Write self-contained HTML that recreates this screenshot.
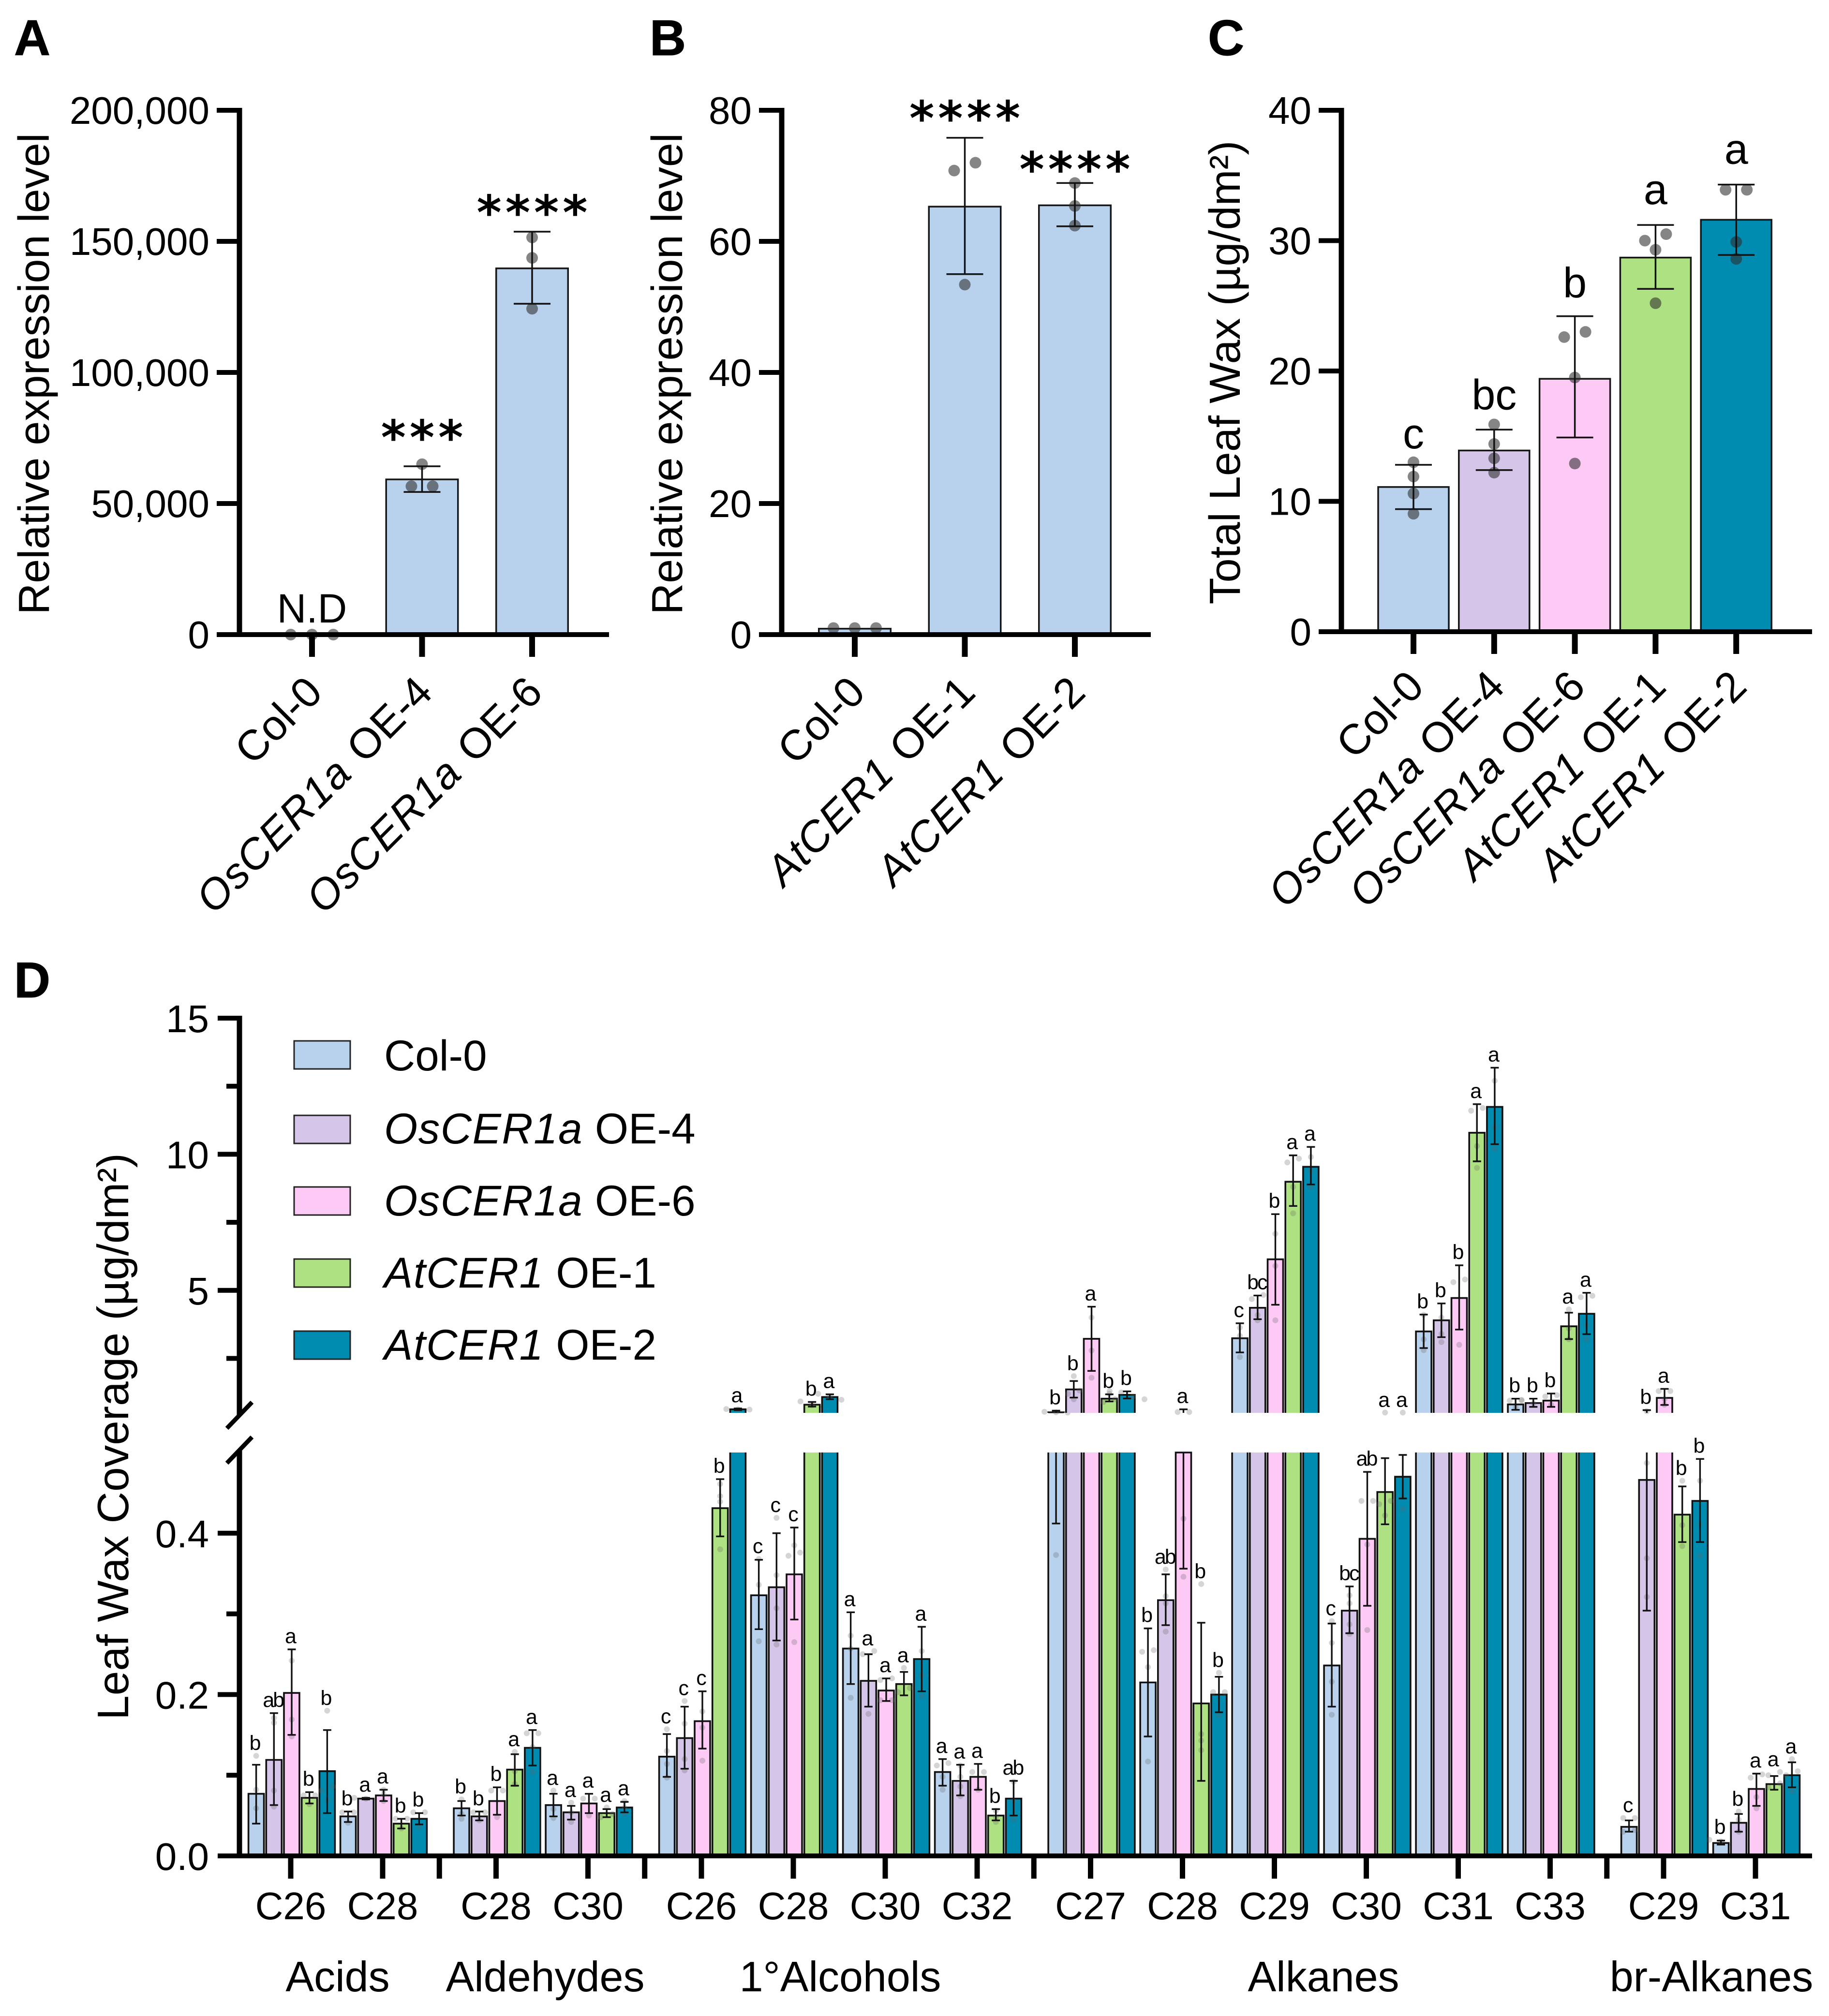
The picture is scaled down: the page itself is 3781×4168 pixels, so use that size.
<!DOCTYPE html>
<html lang="en">
<head>
<meta charset="utf-8">
<title>Leaf wax figure</title>
<style>
html,body{margin:0;padding:0;background:#fff;}
svg{display:block;}
text{font-family:"Liberation Sans",sans-serif;fill:#000;}
.panel-letter{font-size:104px;font-weight:bold;stroke:#000;stroke-width:1px;}
.axis-title{font-size:90px;text-anchor:middle;}
.legend-text{font-size:89px;}
.legend-text tspan{letter-spacing:1.5px;}
.group-title{font-size:88px;text-anchor:middle;}
</style>
</head>
<body>
<svg id="figure" xmlns="http://www.w3.org/2000/svg" width="3781" height="4168" viewBox="0 0 3781 4168">
<rect x="0" y="0" width="3781" height="4168" fill="#fff"/>
<text class="panel-letter" x="29" y="114">A</text>
<text class="panel-letter" x="1343" y="114">B</text>
<text class="panel-letter" x="2497" y="114">C</text>
<text class="panel-letter" x="29" y="2062">D</text>
<text class="axis-title" transform="translate(101,773) rotate(-90)">Relative expression level</text>
<text class="axis-title" transform="translate(1410,773) rotate(-90)">Relative expression level</text>
<text class="axis-title" transform="translate(2563,770) rotate(-90)">Total Leaf Wax (µg/dm²)</text>
<text class="axis-title" style="font-size:91px" transform="translate(265,2970) rotate(-90)">Leaf Wax Coverage (µg/dm²)</text>
<g>
<rect x="608" y="2152" width="116" height="58" fill="#B8D1EC" stroke="#222" stroke-width="3"/>
<text class="legend-text" x="794" y="2213">Col-0</text>
<rect x="608" y="2306" width="116" height="58" fill="#D5C5E8" stroke="#222" stroke-width="3"/>
<text class="legend-text" x="794" y="2364"><tspan font-style="italic">OsCER1a</tspan> OE-4</text>
<rect x="608" y="2454" width="116" height="58" fill="#FDC9F5" stroke="#222" stroke-width="3"/>
<text class="legend-text" x="794" y="2513"><tspan font-style="italic">OsCER1a</tspan> OE-6</text>
<rect x="608" y="2603" width="116" height="58" fill="#AEE181" stroke="#222" stroke-width="3"/>
<text class="legend-text" x="794" y="2662"><tspan font-style="italic">AtCER1</tspan> OE-1</text>
<rect x="608" y="2752" width="116" height="58" fill="#008BB0" stroke="#222" stroke-width="3"/>
<text class="legend-text" x="794" y="2811"><tspan font-style="italic">AtCER1</tspan> OE-2</text>
</g>
<text class="group-title" x="698" y="4117">Acids</text>
<text class="group-title" x="1127" y="4117">Aldehydes</text>
<text class="group-title" x="1737" y="4117">1°Alcohols</text>
<text class="group-title" x="2736" y="4117">Alkanes</text>
<text class="group-title" x="3538" y="4117">br-Alkanes</text>
</svg>
<script>
// ---------- Panel A data ----------
const panelACategories = ['Col-0', 'OsCER1a OE-4', 'OsCER1a OE-6'];
const panelAMeans = [0, 59200, 139700];
const panelAHi = [0, 64200, 153700];
const panelALo = [0, 54400, 126200];
const panelAPoints = [[0, 0, 0], [65000, 56600, 56600], [151500, 143700, 124300]];
const panelATicks = [0, 50000, 100000, 150000, 200000];
const panelATickLabels = ['0', '50,000', '100,000', '150,000', '200,000'];
const panelAMarks = ['N.D', '***', '****'];
// ---------- Panel B data ----------
const panelBCategories = ['Col-0', 'AtCER1 OE-1', 'AtCER1 OE-2'];
const panelBMeans = [0.9, 65.3, 65.5];
const panelBHi = [0.9, 75.8, 68.9];
const panelBLo = [0.9, 55.0, 62.3];
const panelBPoints = [[1, 1, 1], [72.0, 70.8, 53.4], [68.9, 65.4, 62.4]];
const panelBTicks = [0, 20, 40, 60, 80];
const panelBTickLabels = ['0', '20', '40', '60', '80'];
const panelBMarks = ['', '****', '****'];
// ---------- Panel C data ----------
const panelCCategories = ['Col-0', 'OsCER1a OE-4', 'OsCER1a OE-6', 'AtCER1 OE-1', 'AtCER1 OE-2'];
const panelCMeans = [11.1, 13.9, 19.4, 28.7, 31.6];
const panelCHi = [12.8, 15.5, 24.2, 31.2, 34.3];
const panelCLo = [9.4, 12.4, 14.9, 26.3, 28.9];
const panelCPoints = [[13.0, 11.9, 10.6, 9.05], [15.9, 14.4, 13.3, 12.2], [23.0, 22.6, 19.5, 12.9], [30.5, 30.0, 29.3, 25.2], [33.9, 33.9, 29.9, 28.6]];
const panelCTicks = [0, 10, 20, 30, 40];
const panelCTickLabels = ['0', '10', '20', '30', '40'];
const panelCMarks = ['c', 'bc', 'b', 'a', 'a'];
// ---------- Panel D data ----------
const waxGroups = ['C26', 'C28', 'C28', 'C30', 'C26', 'C28', 'C30', 'C32', 'C27', 'C28', 'C29', 'C30', 'C31', 'C33', 'C29', 'C31'];
const waxFamilies = [0, 0, 1, 1, 2, 2, 2, 2, 3, 3, 3, 3, 3, 3, 4, 4];
const waxLines = ['col-0', 'oscer1a-oe-4', 'oscer1a-oe-6', 'atcer1-oe-1', 'atcer1-oe-2'];
const waxMeans = [
  [.077, .119, .202, .072, .105],
  [.049, .071, .075, .040, .046],
  [.059, .049, .068, .107, .134],
  [.063, .054, .065, .053, .060],
  [.123, .146, .167, .431, .63],
  [.323, .333, .349, .80, 1.08],
  [.257, .217, .205, .213, .244],
  [.104, .093, .098, .050, .071],
  [.52, 1.36, 3.22, 1.02, 1.16],
  [.215, .317, .50, .189, .200],
  [3.24, 4.36, 6.14, 8.99, 9.54],
  [.236, .304, .393, .451, .470],
  [3.49, 3.90, 4.72, 10.79, 11.74],
  [.81, .86, .95, 3.68, 4.14],
  [.036, .466, 1.05, .423, .440],
  [.016, .041, .083, .089, .100]
];
const waxHi = [
  [.113, .177, .256, .079, .156],
  [.055, .072, .082, .046, .053],
  [.068, .055, .085, .126, .156],
  [.077, .062, .077, .058, .067],
  [.151, .185, .204, .467, .66],
  [.367, .400, .407, .90, 1.18],
  [.302, .250, .220, .228, .284],
  [.120, .113, .114, .058, .093],
  [.58, 1.67, 4.40, 1.18, 1.29],
  [.282, .349, .63, .289, .222],
  [3.79, 4.81, 7.80, 9.96, 10.27],
  [.288, .334, .476, .493, .497],
  [4.11, 4.52, 5.92, 11.84, 13.18],
  [1.02, 1.02, 1.21, 4.18, 4.91],
  [.044, .60, 1.38, .458, .492],
  [.019, .052, .102, .099, .116]
];
const waxLo = [
  [.040, .063, .150, .065, .053],
  [.042, .070, .068, .034, .039],
  [.050, .044, .051, .087, .112],
  [.049, .045, .053, .048, .054],
  [.098, .108, .133, .396, .60],
  [.281, .267, .293, .73, 1.0],
  [.213, .185, .192, .199, .204],
  [.087, .075, .082, .044, .050],
  [.412, 1.06, 2.04, .92, 1.03],
  [.148, .286, .356, .093, .178],
  [2.72, 3.94, 4.47, 8.10, 8.89],
  [.185, .276, .310, .411, .443],
  [2.88, 3.28, 3.56, 9.74, 10.37],
  [.61, .72, .72, 3.21, 3.39],
  [.030, .304, .79, .389, .389],
  [.014, .030, .062, .082, .085]
];
const waxSignificance = [
  ['b', 'ab', 'a', 'b', 'b'],
  ['b', 'a', 'a', 'b', 'b'],
  ['b', 'b', 'b', 'a', 'a'],
  ['a', 'a', 'a', 'a', 'a'],
  ['c', 'c', 'c', 'b', 'a'],
  ['c', 'c', 'c', 'b', 'a'],
  ['a', 'a', 'a', 'a', 'a'],
  ['a', 'a', 'a', 'b', 'ab'],
  ['b', 'b', 'a', 'b', 'b'],
  ['b', 'ab', 'a', 'b', 'b'],
  ['c', 'bc', 'b', 'a', 'a'],
  ['c', 'bc', 'ab', 'a', 'a'],
  ['b', 'b', 'b', 'a', 'a'],
  ['b', 'b', 'b', 'a', 'a'],
  ['c', 'b', 'a', 'b', 'b'],
  ['b', 'b', 'a', 'a', 'a']
];
const waxPoints = [
  [[.124, .082, .059], [.171, .165, .081, .061], [.242, .169, .148], [.075, .075, .064], [.180, .086, .081, .069]],
  [[.054, .054, .041], [.072, .071, .070], [.082, .076, .068], [.046, .046, .034], [.054, .054, .036]],
  [[.070, .052, .046], [.054, .054, .044], [.081, .081, .048], [.129, .105, .089], [.152, .152, .135, .104]],
  [[.081, .058, .047], [.066, .054, .042], [.071, .071, .050], [.060, .052, .048], [.068, .060, .052]],
  [[.157, .130, .114, .097], [.192, .164, .120, .106], [.179, .159, .118], [.461, .446, .439, .380], [.64, .63, .62]],
  [[.368, .336, .266], [.419, .348, .307, .262], [.385, .376, .372, .265], [.92, .78, .72], [1.2, 1.1, .98]],
  [[.273, .257, .196], [.254, .250, .176], [.220, .218, .193, .193], [.233, .208, .203], [.224, .198, .254]],
  [[.115, .112, .098, .082], [.112, .098, .086, .074], [.104, .104, .082], [.056, .048, .042], [.092, .068, .045]],
  [[.54, .52, .51, .373], [1.85, 1.32, 1.2, 1.0], [4.0, 2.79, 1.79], [1.2, 1.0, .9], [1.3, 1.25, 1.1, 1.0]],
  [[.255, .253, .234, .117], [.355, .322, .313, .278], [.53, .53, .418, .346], [.337, .151, .143, .131], [.227, .203, .203, .174]],
  [[3.63, 3.33, 2.55], [4.83, 4.68, 4.09, 3.9], [7.08, 5.9, 3.9], [9.84, 9.7, 8.8, 7.83], [9.9, 9.4, 8.8]],
  [[.291, .264, .216, .175], [.323, .313, .287, .275], [.44, .44, .386, .280], [.51, .44, .436, .422], [.51, .444, .43]],
  [[4.1, 3.2, 2.8], [4.0, 3.1, 3.4], [5.4, 5.3, 3.0], [11.7, 11.6, 10.3, 9.5], [12.7, 11.0, 10.2]],
  [[.98, .95, .7], [.95, .85, .7], [1.15, 1.1, .8], [4.3, 3.6, 3.2], [4.8, 4.75, 3.75, 3.2]],
  [[.047, .047, .032, .030], [.56, .487, .369, .321], [1.3, 1.3, 1.0, .8], [.465, .410, .384], [.465, .411, .372]],
  [[.020, .018, .014], [.055, .045, .030], [.101, .097, .073, .059], [.104, .100, .090, .085], [.120, .105, .100, .080]]
];
const waxUpperTicks = [5, 10, 15];
const waxUpperMinor = [2.5, 7.5, 12.5];
const waxLowerTicks = [0, 0.2, 0.4];
const waxLowerMinor = [0.1, 0.3];
const waxTickFormat = ['0.0', '0.2', '0.4'];

// ---------- helpers ----------
const lineColors = ['#B8D1EC', '#D5C5E8', '#FDC9F5', '#AEE181', '#008BB0'];
const svgRoot = document.getElementById('figure');
const NS = 'http://www.w3.org/2000/svg';
function make(tag, attrs, parent) {
  const node = document.createElementNS(NS, tag);
  for (const k in attrs) node.setAttribute(k, attrs[k]);
  parent.appendChild(node);
  return node;
}
function swarm(values, yFn, spread, near) {
  const offsets = values.map(function () { return 0; });
  const order = values.map(function (v, i) { return i; }).sort(function (a, b) { return yFn(values[a]) - yFn(values[b]); });
  let i = 0;
  while (i < order.length) {
    let j = i;
    while (j + 1 < order.length && Math.abs(yFn(values[order[j + 1]]) - yFn(values[order[j]])) < near) j++;
    const size = j - i + 1;
    if (size === 2) {
      offsets[order[i]] = spread;
      offsets[order[j]] = -spread;
    } else if (size >= 3) {
      for (let k = 0; k < size; k++) offsets[order[i + k]] = (k - (size - 1) / 2) * spread * 2;
    }
    i = j + 1;
  }
  return offsets;
}

// ---------- panels A, B, C ----------
function drawPanel(key, cfg, categories, means, hi, lo, points, ticks, tickLabels, marks) {
  const g = make('g', {}, svgRoot);
  
  
  const yScale = function (v) { return cfg.zero - v / cfg.max * (cfg.zero - cfg.top); };
  categories.forEach(function (cat, i) {
    const cx = cfg.centers0 + i * cfg.step;
    const barTop = yScale(means[i]);
    const bar = make('rect', { x: cx - cfg.barW / 2, y: barTop, width: cfg.barW, height: Math.max(cfg.zero - barTop, 0), fill: cfg.multi ? lineColors[i] : lineColors[0], stroke: '#161616', 'stroke-width': 3.5 }, g);
    
    
    const offs = swarm(points[i], yScale, 22, 18);
    points[i].forEach(function (p, j) {
      const dot = make('circle', { cx: cx + offs[j], cy: yScale(p), r: 12, fill: 'rgba(45,45,45,0.58)' }, g);
      
      
    });
    if (hi[i] !== lo[i]) {
      const yh = yScale(hi[i]), yl = yScale(lo[i]);
      const err = make('path', { d: 'M' + (cx - 38) + ' ' + yh + 'H' + (cx + 38) + 'M' + cx + ' ' + yh + 'V' + yl + 'M' + (cx - 38) + ' ' + yl + 'H' + (cx + 38), fill: 'none', stroke: '#111', 'stroke-width': 3.5 }, g);
      
      
    }
    const tick = make('rect', { x: cx - 6, y: cfg.zero, width: 12, height: 46, fill: '#000' }, g);
    
    
    const label = make('text', { 'text-anchor': 'end', 'font-size': 88, transform: 'translate(' + (cx + 26) + ',' + (cfg.zero + cfg.labelDrop) + ') rotate(-45)' }, g);
    
    
    const m = /^(OsCER1a|AtCER1)( .*)$/.exec(cat);
    if (m) {
      const it = make('tspan', { 'font-style': 'italic', 'letter-spacing': 2 }, label);
      it.textContent = m[1];
      const rest = make('tspan', { dx: 6 }, label);
      rest.textContent = m[2];
    } else {
      label.textContent = cat;
    }
    const mark = marks[i];
    if (mark) {
      const isStar = mark.charAt(0) === '*';
      let t;
      if (isStar) {
        t = make('text', { x: cx + 4, y: yScale(hi[i]) - cfg.markGap[i] + 51, 'text-anchor': 'middle', 'font-size': 98, 'font-weight': 'bold', 'letter-spacing': 8, style: 'font-family:"DejaVu Sans",sans-serif' }, g);
      } else if (mark === 'N.D') {
        t = make('text', { x: cx, y: cfg.zero - 25, 'text-anchor': 'middle', 'font-size': 84 }, g);
      } else {
        t = make('text', { x: cx, y: yScale(hi[i]) - cfg.markGap[i], 'text-anchor': 'middle', 'font-size': 88 }, g);
      }
      
      
      t.textContent = mark;
    }
  });
  const yAxis = make('rect', { x: cfg.axisX - 5.5, y: cfg.top - 5, width: 11, height: cfg.zero - cfg.top + 10, fill: '#000' }, g);
  
  
  const xAxis = make('rect', { x: cfg.axisX - 47, y: cfg.zero - 5, width: cfg.xEnd - cfg.axisX + 47, height: 10, fill: '#000' }, g);
  
  
  ticks.forEach(function (v, i) {
    const y = yScale(v);
    const tick = make('rect', { x: cfg.axisX - 47, y: y - 5, width: 47, height: 10, fill: '#000' }, g);
    
    
    const label = make('text', { x: cfg.axisX - 62, y: y + 28, 'text-anchor': 'end', 'font-size': 80 }, g);
    
    
    label.textContent = tickLabels[i];
  });
}
drawPanel('a', { axisX: 495, xEnd: 1259, top: 228, zero: 1312, max: 200000, centers0: 645, step: 227.5, barW: 148.5, multi: false, labelDrop: 124, markGap: [0, 76, 56] },
  panelACategories, panelAMeans, panelAHi, panelALo, panelAPoints, panelATicks, panelATickLabels, panelAMarks);
drawPanel('b', { axisX: 1616, xEnd: 2379, top: 228, zero: 1312, max: 80, centers0: 1767, step: 227.5, barW: 148.5, multi: false, labelDrop: 124, markGap: [0, 57, 45] },
  panelBCategories, panelBMeans, panelBHi, panelBLo, panelBPoints, panelBTicks, panelBTickLabels, panelBMarks);
drawPanel('c', { axisX: 2773, xEnd: 3746, top: 228, zero: 1306, max: 40, centers0: 2922, step: 166.8, barW: 146, multi: true, labelDrop: 118, markGap: [34, 42, 39, 43, 43] },
  panelCCategories, panelCMeans, panelCHi, panelCLo, panelCPoints, panelCTicks, panelCTickLabels, panelCMarks);

// ---------- panel D ----------
const D = { axisX: 495, zero: 3837, breakLow: 3003, breakHigh: 2921, top: 2105, split: 0.5, max: 15 };
function yWax(v) {
  if (v <= D.split) return D.zero - v / D.split * (D.zero - D.breakLow);
  return D.breakHigh - (v - D.split) / (D.max - D.split) * (D.breakHigh - D.top);
}
function xGroup(i) { return 601 + i * 190 + waxFamilies[i] * 44.5; }
const gd = make('g', {}, svgRoot);


const barStep = 36.7, barWide = 32;
waxGroups.forEach(function (name, gi) {
  const tx = xGroup(gi);
  const grp = make('g', {}, gd);
  
  
  waxLines.forEach(function (line, li) {
    const cx = tx + 2 + (li - 2) * barStep;
    const v = waxMeans[gi][li];
    const xl = cx - barWide / 2, xr = cx + barWide / 2;
    const topLow = v > D.split ? D.breakLow : yWax(v);
    const low = make('rect', { x: xl, y: topLow, width: barWide, height: D.zero - topLow, fill: lineColors[li] }, grp);
    
    
    let d = 'M' + xl + ' ' + D.zero + 'V' + topLow + (v > D.split ? 'M' : 'H') + xr + (v > D.split ? ' ' + topLow : '') + 'V' + D.zero;
    if (v > D.split) {
      const yt = yWax(v);
      const up = make('rect', { x: xl, y: yt, width: barWide, height: D.breakHigh - yt, fill: lineColors[li] }, grp);
      
      
      d += 'M' + xl + ' ' + D.breakHigh + 'V' + yt + 'H' + xr + 'V' + D.breakHigh;
    }
    const outline = make('path', { d: d, fill: 'none', stroke: '#111', 'stroke-width': 3.6 }, grp);
    
    
    const pts = waxPoints[gi][li];
    const offs = swarm(pts, yWax, 12, 9);
    pts.forEach(function (p, j) {
      const dot = make('circle', { cx: cx + offs[j], cy: yWax(p), r: 6, fill: 'rgba(100,100,100,0.27)' }, grp);
      
      
    });
    const hi = waxHi[gi][li], lo = waxLo[gi][li];
    const yh = yWax(hi), yl = yWax(lo);
    let e = 'M' + (cx - 8.5) + ' ' + yh + 'H' + (cx + 8.5) + 'M' + (cx - 8.5) + ' ' + yl + 'H' + (cx + 8.5);
    if (hi > D.split && lo <= D.split) {
      e += 'M' + cx + ' ' + yh + 'V' + D.breakHigh + 'M' + cx + ' ' + D.breakLow + 'V' + yl;
    } else {
      e += 'M' + cx + ' ' + yh + 'V' + yl;
    }
    const err = make('path', { d: e, fill: 'none', stroke: '#111', 'stroke-width': 3.4 }, grp);
    
    
    const maxPt = Math.max.apply(null, pts);
    const labelY = Math.min(yh - 13, yWax(maxPt) - 12);
    const sig = waxSignificance[gi][li];
    const t = make('text', { x: cx - 2, y: labelY, 'text-anchor': 'middle', 'font-size': 43, 'letter-spacing': sig.length > 1 ? -3 : 0 }, grp);
    
    
    t.textContent = sig;
  });
  const tick = make('rect', { x: tx - 5.5, y: D.zero, width: 11, height: 47, fill: '#000' }, gd);
  
  
  const lab = make('text', { x: tx, y: 3968, 'text-anchor': 'middle', 'font-size': 80 }, gd);
  
  
  lab.textContent = name;
  if (gi > 0 && waxFamilies[gi] !== waxFamilies[gi - 1]) {
    const sep = make('rect', { x: (xGroup(gi - 1) + tx) / 2 - 5.5, y: D.zero, width: 11, height: 47, fill: '#000' }, gd);
    
    
  }
});
const xAxisD = make('rect', { x: 450, y: D.zero - 5, width: 3296, height: 10, fill: '#000' }, gd);


const yAxisUp = make('rect', { x: D.axisX - 5.5, y: D.top - 5, width: 11, height: 2926 - D.top + 5, fill: '#000' }, gd);


const yAxisLow = make('rect', { x: D.axisX - 5.5, y: 2997, width: 11, height: D.zero - 2997, fill: '#000' }, gd);


const breakMarks = make('path', { d: 'M469 2953L521 2899M469 3025L521 2971', fill: 'none', stroke: '#000', 'stroke-width': 9 }, gd);


waxUpperTicks.concat(waxLowerTicks).forEach(function (v, i) {
  const y = yWax(v);
  const tick = make('rect', { x: 450, y: y - 5, width: 45, height: 10, fill: '#000' }, gd);
  
  
  const label = make('text', { x: 432, y: y + 29, 'text-anchor': 'end', 'font-size': 80 }, gd);
  
  
  label.textContent = i < waxUpperTicks.length ? String(v) : waxTickFormat[i - waxUpperTicks.length];
});
waxUpperMinor.concat(waxLowerMinor).forEach(function (v) {
  const tick = make('rect', { x: 468, y: yWax(v) - 5, width: 27, height: 10, fill: '#000' }, gd);
  
  
});
</script>
</body>
</html>
